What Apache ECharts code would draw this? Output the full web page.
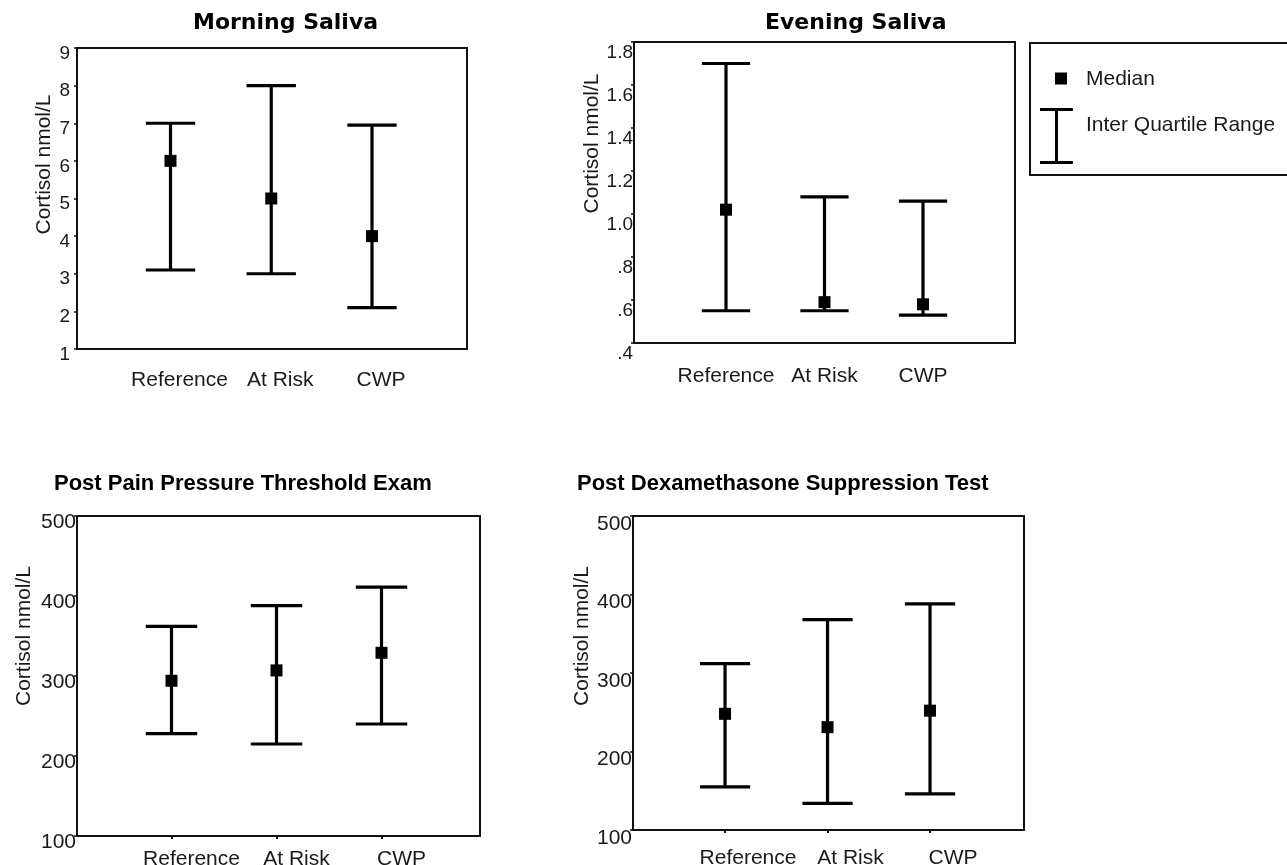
<!DOCTYPE html>
<html>
<head>
<meta charset="utf-8">
<script src="https://cdn.jsdelivr.net/npm/echarts@6/dist/echarts.min.js"></script>
<style>
html,body{margin:0;padding:0;background:#fff;}
#c{width:1287px;height:865px;}
</style>
</head>
<body>
<div id="c"></div>
<script>
// ---- data ----
const categories = ['Reference', 'At Risk', 'CWP'];

const morningQ1 = [3.1, 3.0, 2.1];
const morningMedian = [6.0, 5.0, 4.0];
const morningQ3 = [7.0, 8.0, 6.95];

const eveningQ1 = [0.55, 0.55, 0.53];
const eveningMedian = [1.02, 0.59, 0.58];
const eveningQ3 = [1.70, 1.08, 1.06];

const ppteQ1 = [228, 215, 240];
const ppteMedian = [294, 307, 329];
const ppteQ3 = [362, 388, 411];

const dstQ1 = [155, 134, 146];
const dstMedian = [248, 231, 252];
const dstQ3 = [312, 368, 388];

const yAxisName = 'Cortisol nmol/L';
const legendMedian = 'Median';
const legendIQR = 'Inter Quartile Range';

// ---- layout ----
const panels = [
  {title: 'Morning Saliva', q1: morningQ1, med: morningMedian, q3: morningQ3,
   yMin: 1, yMax: 9, yStep: 1, fmt: v => String(v),
   grid: {left: 77, top: 48, width: 390, height: 301}, xMin: 0.072, xMax: 3.943,
   titlePos: {left: 193, top: 12}, titleFont: 'DejaVu Sans',
   labelSize: 19, labelMargin: 7, labelLH: 11, nameGap: 22, nameShift: 34,
   xLabelMargin: 21, xLabelShift: 9, xTicks: false},
  {title: 'Evening Saliva', q1: eveningQ1, med: eveningMedian, q3: eveningQ3,
   yMin: 0.4, yMax: 1.8, yStep: 0.2,
   fmt: v => { const s = (Math.round(v * 10) / 10).toFixed(1); return v < 1 ? s.replace(/^0/, '') : s; },
   grid: {left: 634, top: 42, width: 381, height: 301}, xMin: 0.066, xMax: 3.934,
   titlePos: {left: 765, top: 12}, titleFont: 'DejaVu Sans',
   labelSize: 19, labelMargin: 1, labelLH: 21, nameGap: 29, nameShift: 49,
   xLabelMargin: 23, xLabelShift: 0, xTicks: false},
  {title: 'Post Pain Pressure Threshold Exam', q1: ppteQ1, med: ppteMedian, q3: ppteQ3,
   yMin: 100, yMax: 500, yStep: 100, fmt: v => String(v),
   grid: {left: 77, top: 516, width: 403, height: 320}, xMin: 0.1, xMax: 3.938,
   titlePos: {left: 54, top: 473}, titleFont: 'Liberation Sans',
   labelSize: 21, labelMargin: 1, labelLH: 12, nameGap: 42, nameShift: 40,
   xLabelMargin: 13, xLabelShift: 20, xTicks: true},
  {title: 'Post Dexamethasone Suppression Test', q1: dstQ1, med: dstMedian, q3: dstQ3,
   yMin: 100, yMax: 500, yStep: 100, fmt: v => String(v),
   grid: {left: 633, top: 516, width: 391, height: 314}, xMin: 0.102, xMax: 3.917,
   titlePos: {left: 577, top: 473}, titleFont: 'Liberation Sans',
   labelSize: 21, labelMargin: 1, labelLH: 16, nameGap: 38, nameShift: 37,
   xLabelMargin: 18, xLabelShift: 23, xTicks: true}
];

const INK = '#111';
const TXT = '#1a1a1a';
const FONT = 'Liberation Sans';

function errorBarRender(params, api) {
  const x = api.value(0);
  const lo = api.coord([x, api.value(1)]);
  const hi = api.coord([x, api.value(2)]);
  const hw = api.size([1, 0])[0] * 0.245;
  const st = {stroke: '#000', lineWidth: 3.2};
  return {type: 'group', children: [
    {type: 'line', shape: {x1: hi[0] - hw, y1: hi[1], x2: hi[0] + hw, y2: hi[1]}, style: st},
    {type: 'line', shape: {x1: hi[0], y1: hi[1], x2: lo[0], y2: lo[1]}, style: st},
    {type: 'line', shape: {x1: lo[0] - hw, y1: lo[1], x2: lo[0] + hw, y2: lo[1]}, style: st}
  ]};
}

const option = {
  animation: false,
  backgroundColor: '#fff',
  title: [], grid: [], xAxis: [], yAxis: [], series: [],
  legend: [
    {data: [{name: legendMedian, icon: 'rect', itemStyle: {color: '#000'}}],
     left: 1055, top: 68, padding: 0, itemWidth: 12, itemHeight: 12, selectedMode: false,
     formatter: n => '{s| }{t|' + n + '}',
     textStyle: {fontFamily: FONT, fontSize: 21, color: TXT,
       rich: {s: {width: 14, height: 23},
              t: {fontFamily: FONT, fontSize: 21, color: TXT, verticalAlign: 'bottom'}}}},
    {data: [{name: legendIQR, icon: 'path://M0,0H33V3H0Z M15,3H18V53H15Z M0,53H33V56H0Z', itemStyle: {color: '#000'}}],
     left: 1040, top: 108, padding: 0, itemWidth: 33, itemHeight: 56, selectedMode: false,
     formatter: n => '{s| }{t|' + n + '}',
     textStyle: {fontFamily: FONT, fontSize: 21, color: TXT,
       rich: {s: {width: 8, height: 43},
              t: {fontFamily: FONT, fontSize: 21, color: TXT, verticalAlign: 'top'}}}}
  ],
  graphic: [
    {type: 'rect', shape: {x: 1030, y: 43, width: 300, height: 132},
     style: {fill: 'none', stroke: INK, lineWidth: 2}, silent: true}
  ]
};

panels.forEach((p, i) => {
  option.title.push({
    text: p.title, left: p.titlePos.left, top: p.titlePos.top, padding: 0,
    textStyle: {fontFamily: p.titleFont, fontWeight: 'bold', fontSize: 22, color: '#000'}
  });
  option.grid.push(Object.assign({show: true, borderColor: INK, borderWidth: 2, backgroundColor: '#fff',
    outerBoundsMode: 'none', containLabel: false}, p.grid));
  const s = p.xLabelShift;
  option.xAxis.push({
    gridIndex: i, type: 'value', min: p.xMin, max: p.xMax,
    axisLine: {show: true, lineStyle: {color: INK, width: 2}},
    axisTick: {show: p.xTicks, customValues: [1, 2, 3], length: 3, lineStyle: {color: INK, width: 2}},
    splitLine: {show: false},
    axisLabel: {
      customValues: [1, 2, 3], margin: p.xLabelMargin,
      fontFamily: FONT, fontSize: 21, color: TXT,
      padding: s >= 0 ? [0, 0, 0, s * 2] : [0, -s * 2, 0, 0],
      formatter: v => categories[Math.round(v) - 1] || ''
    }
  });
  option.yAxis.push({
    gridIndex: i, type: 'value', min: p.yMin, max: p.yMax, interval: p.yStep,
    name: '{s| }{n|' + yAxisName + '}', nameLocation: 'middle', nameRotate: 90, nameGap: p.nameGap,
    nameTextStyle: {fontFamily: FONT, fontSize: 21, color: TXT,
      rich: {s: {width: p.nameShift * 2}, n: {fontFamily: FONT, fontSize: 21, color: TXT}}},
    axisLine: {show: true, lineStyle: {color: INK, width: 2}},
    axisTick: {show: true, length: 3, lineStyle: {color: INK, width: 1.5}},
    splitLine: {show: false},
    axisLabel: {
      margin: p.labelMargin, fontFamily: FONT, fontSize: p.labelSize, color: TXT,
      verticalAlign: 'top', lineHeight: p.labelLH,
      formatter: p.fmt
    }
  });
  option.series.push({
    name: legendIQR, type: 'custom', xAxisIndex: i, yAxisIndex: i,
    renderItem: errorBarRender, itemStyle: {color: '#000'},
    encode: {x: 0, y: [1, 2]},
    data: categories.map((c, k) => [k + 1, p.q1[k], p.q3[k]]),
    z: 2
  });
  option.series.push({
    name: legendMedian, type: 'scatter', xAxisIndex: i, yAxisIndex: i,
    symbol: 'rect', symbolSize: 12, itemStyle: {color: '#000', opacity: 1},
    data: categories.map((c, k) => [k + 1, p.med[k]]),
    z: 3
  });
});

const chart = echarts.init(document.getElementById('c'), null, {renderer: 'canvas'});
chart.setOption(option);
</script>
</body>
</html>
